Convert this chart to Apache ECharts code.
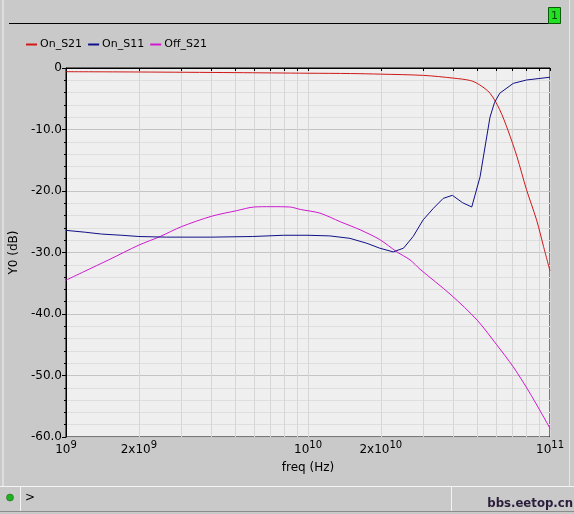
<!DOCTYPE html>
<html>
<head>
<meta charset="utf-8">
<script src="https://cdn.jsdelivr.net/npm/echarts@6/dist/echarts.min.js"></script>
<style>
html,body{margin:0;padding:0;background:#c9c9c9;}
#chart{width:574px;height:514px;}
</style>
</head>
<body>
<div id="chart"></div>
<script>
// ---- data (freq in Hz, value in dB) ----
const seriesNames = ['On_S21', 'On_S11', 'Off_S21'];
const onS21 = [
  [1e9,-0.6],[2e9,-0.65],[5e9,-0.75],[1e10,-0.85],[1.5e10,-0.9],[2e10,-1.0],
  [3e10,-1.2],[4e10,-1.65],[4.7e10,-2.05],[5.1e10,-2.7],[5.65e10,-4.1],
  [6.2e10,-6.8],[6.7e10,-10.1],[7.3e10,-14.4],[8e10,-19.8],[8.8e10,-24.7],
  [9.4e10,-29.0],[1e11,-33.0]
];
const onS11 = [
  [1e9,-26.4],[1.2e9,-26.7],[1.4e9,-27.0],[1.7e9,-27.2],[2e9,-27.4],[2.6e9,-27.5],
  [4e9,-27.5],[5.9e9,-27.4],[7.9e9,-27.2],[1e10,-27.2],[1.23e10,-27.3],
  [1.49e10,-27.7],[1.75e10,-28.5],[1.98e10,-29.3],[2.25e10,-29.9],[2.48e10,-29.3],
  [2.72e10,-27.4],[2.99e10,-24.7],[3.3e10,-22.8],[3.62e10,-21.2],[3.95e10,-20.7],
  [4.35e10,-21.9],[4.75e10,-22.6],[5.14e10,-17.7],[5.65e10,-8.0],[5.9e10,-5.6],
  [6.2e10,-4.1],[7.05e10,-2.5],[8e10,-1.95],[1e11,-1.5]
];
const offS21 = [
  [1e9,-34.5],[1.5e9,-31.2],[2e9,-28.8],[2.45e9,-27.4],[3e9,-25.8],[4e9,-24.1],
  [5.07e9,-23.2],[6e9,-22.6],[7e9,-22.55],[8.4e9,-22.6],[9.3e9,-23.0],
  [1.12e10,-23.6],[1.36e10,-25.0],[1.64e10,-26.3],[1.98e10,-27.9],[2.33e10,-29.9],
  [2.64e10,-31.2],[2.9e10,-32.7],[3.9e10,-36.9],[5e10,-41.0],[6.02e10,-45.0],
  [7.05e10,-48.6],[8.27e10,-52.9],[1e11,-58.6]
];
const xTickValues = [1e9,2e9,3e9,4e9,5e9,6e9,7e9,8e9,9e9,1e10,2e10,3e10,4e10,5e10,6e10,7e10,8e10,9e10,1e11];
const xLabelValues = [1e9,2e9,1e10,2e10,1e11];
const colors = ['#d01818', '#101088', '#d018d0'];

const FONT = 'DejaVu Sans';
const chart = echarts.init(document.getElementById('chart'));

function xFmt(v) {
  const e = Math.round(Math.log10(v));
  const m = Math.round(v / Math.pow(10, e));
  return (m === 1 ? '{b|10}' : '{b|' + m + 'x10}') + '{s|' + e + '}';
}

chart.setOption({
  backgroundColor: '#c9c9c9',
  animation: false,
  color: colors,
  textStyle: { fontFamily: FONT, color: '#000' },
  legend: {
    left: 21, top: 34,
    itemWidth: 11, itemHeight: 2, itemGap: 6,
    icon: 'rect',
    textStyle: { fontFamily: FONT, fontSize: 11, color: '#000', padding: [0,0,0,-2] },
    data: seriesNames
  },
  grid: {
    left: 66, right: 24, top: 68, bottom: 77,
    show: true, backgroundColor: '#efefef', borderColor: '#000', borderWidth: 1
  },
  xAxis: {
    type: 'log', logBase: 10, min: 1e9, max: 1e11,
    name: 'freq (Hz)', nameLocation: 'middle', nameGap: 25,
    nameTextStyle: { fontFamily: FONT, fontSize: 12, color: '#000' },
    axisLine: { show: true, lineStyle: { color: '#000' } },
    axisTick: { show: true, length: 3, customValues: xTickValues, lineStyle: { color: '#000' } },
    axisLabel: {
      customValues: xLabelValues, margin: 3, formatter: xFmt, color: '#000',
      rich: {
        b: { fontFamily: FONT, fontSize: 12, lineHeight: 20, color: '#000' },
        s: { fontFamily: FONT, fontSize: 10, lineHeight: 11, verticalAlign: 'top', color: '#000' }
      }
    },
    splitLine: { show: true, lineStyle: { color: '#d6d6d6', width: 1 } }
  },
  yAxis: {
    type: 'value', min: -60, max: 0, interval: 10,
    name: 'Y0 (dB)', nameLocation: 'middle', nameGap: 46,
    nameTextStyle: { fontFamily: FONT, fontSize: 12, color: '#000' },
    axisLine: { show: true, lineStyle: { color: '#000' } },
    axisTick: { show: true, length: 4, lineStyle: { color: '#000' } },
    minorTick: { show: true, splitNumber: 5, length: 2, lineStyle: { color: '#000' } },
    axisLabel: {
      margin: 4, fontFamily: FONT, fontSize: 12, color: '#000',
      formatter: v => v === 0 ? '0' : v.toFixed(1)
    },
    splitLine: { show: true, lineStyle: { color: '#c4c4c4', width: 1 } },
    minorSplitLine: { show: true, lineStyle: { color: '#dedede', width: 1 } }
  },
  series: [
    { name: seriesNames[0], type: 'line', data: onS21, showSymbol: false, symbol: 'none', smooth: 0.3, lineStyle: { width: 1, color: colors[0] }, z: 3 },
    { name: seriesNames[1], type: 'line', data: onS11, showSymbol: false, symbol: 'none', lineStyle: { width: 1, color: colors[1] }, z: 4 },
    { name: seriesNames[2], type: 'line', data: offS21, showSymbol: false, symbol: 'none', smooth: 0.3, lineStyle: { width: 1, color: colors[2] }, z: 2 }
  ],
  graphic: [
    { type: 'line', shape: { x1: 3, y1: 0, x2: 3, y2: 486 }, style: { stroke: '#f2f2f2', lineWidth: 1 }, silent: true },
    { type: 'line', shape: { x1: 569.5, y1: 0, x2: 569.5, y2: 486 }, style: { stroke: '#e8e8e8', lineWidth: 1 }, silent: true },
    { type: 'line', shape: { x1: 9, y1: 23.5, x2: 549, y2: 23.5 }, style: { stroke: '#000', lineWidth: 1 }, silent: true },
    { type: 'rect', shape: { x: 548.5, y: 7.5, width: 12, height: 16 }, style: { fill: '#22e022', stroke: '#0a5a0a', lineWidth: 1 }, silent: true },
    { type: 'text', x: 554.5, y: 16, style: { text: '1', fontFamily: FONT, fontSize: 11, fill: '#0a4a0a', align: 'center', verticalAlign: 'middle' }, silent: true },
    { type: 'line', shape: { x1: 0, y1: 486.5, x2: 574, y2: 486.5 }, style: { stroke: '#f4f4f4', lineWidth: 1 }, silent: true },
    { type: 'line', shape: { x1: 0, y1: 511.5, x2: 574, y2: 511.5 }, style: { stroke: '#8c8c8c', lineWidth: 1 }, silent: true },
    { type: 'line', shape: { x1: 20.5, y1: 487, x2: 20.5, y2: 511 }, style: { stroke: '#f4f4f4', lineWidth: 1 }, silent: true },
    { type: 'line', shape: { x1: 451.5, y1: 487, x2: 451.5, y2: 511 }, style: { stroke: '#f4f4f4', lineWidth: 1 }, silent: true },
    { type: 'circle', shape: { cx: 10, cy: 497.5, r: 3.5 }, style: { fill: '#20b020', stroke: '#106010', lineWidth: 0.5 }, silent: true },
    { type: 'text', x: 25, y: 498, style: { text: '>', fontFamily: FONT, fontSize: 12, fill: '#000', verticalAlign: 'middle' }, silent: true },
    { type: 'text', x: 573, y: 504, style: { text: 'bbs.eetop.cn', fontFamily: 'Liberation Sans Narrow, DejaVu Sans Condensed', fontWeight: 'bold', fontSize: 13, fill: '#2a1e3c', align: 'right', verticalAlign: 'middle' }, silent: true }
  ]
});
</script>
</body>
</html>
